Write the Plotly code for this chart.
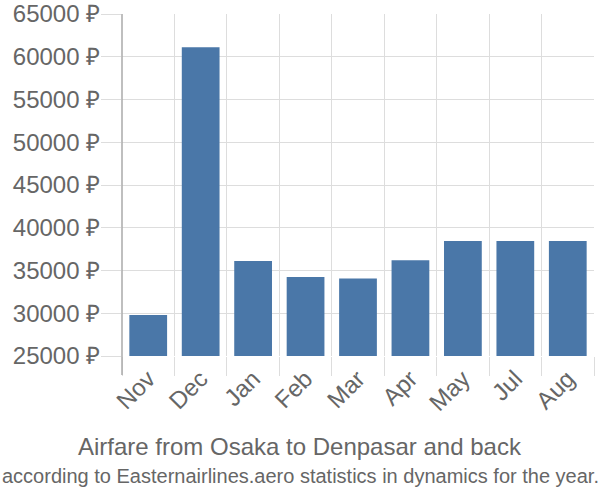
import plotly.graph_objects as go

months = ["Nov", "Dec", "Jan", "Feb", "Mar", "Apr", "May", "Jul", "Aug"]
prices = [29800, 61100, 36100, 34250, 34050, 36200, 38450, 38450, 38450]
y_ticks = [25000, 30000, 35000, 40000, 45000, 50000, 55000, 60000, 65000]
y_labels = [f"{v} ₽" for v in y_ticks]

W, H = 600, 500
ml, mr, mt, mb = 122, 6, 14, 144
pw = W - ml - mr
ph = H - mt - mb

fig = go.Figure(go.Bar(x=months, y=prices, marker=dict(color="#4a77a8", line=dict(width=0)), width=0.72))

font = "Liberation Sans, Arial, sans-serif"
fig.update_layout(
    width=W, height=H,
    margin=dict(l=ml, r=mr, t=mt, b=mb, autoexpand=False),
    plot_bgcolor="white", paper_bgcolor="white",
    showlegend=False,
    font=dict(family=font, color="#666666"),
    xaxis=dict(
        type="category", tickson="boundaries", showgrid=True, gridcolor="#dddddd", gridwidth=1,
        ticks="outside", ticklen=19, tickcolor="#dddddd", tickangle=-45, ticklabelstandoff=3,
        tickfont=dict(size=24, color="#666666"), showline=False, zeroline=False,
        range=[-0.5, 8.5], automargin=False,
    ),
    yaxis=dict(
        range=[25000, 65000], tickvals=y_ticks, ticktext=y_labels,
        showgrid=True, gridcolor="#dddddd", gridwidth=1,
        ticks="outside", ticklen=20, tickcolor="#dddddd", ticklabelstandoff=-4,
        tickfont=dict(size=24, color="#666666"), zeroline=False, showline=False,
        automargin=False,
    ),
    shapes=[dict(type="line", xref="paper", yref="paper", x0=0, x1=0, y0=1, y1=-19 / ph,
                 line=dict(color="#aaaaaa", width=1.5))],
    annotations=[
        dict(text="Airfare from Osaka to Denpasar and back", xref="paper", yref="paper",
             x=(300 - ml) / pw, y=-(446 - mt - ph) / ph, xanchor="center", yanchor="middle",
             showarrow=False, font=dict(size=24, color="#666666", family=font)),
        dict(text="according to Easternairlines.aero statistics in dynamics for the year.",
             xref="paper", yref="paper",
             x=(300 - ml) / pw, y=-(476 - mt - ph) / ph, xanchor="center", yanchor="middle",
             showarrow=False, font=dict(size=20, color="#666666", family=font)),
    ],
)

fig.write_html("out.html")
